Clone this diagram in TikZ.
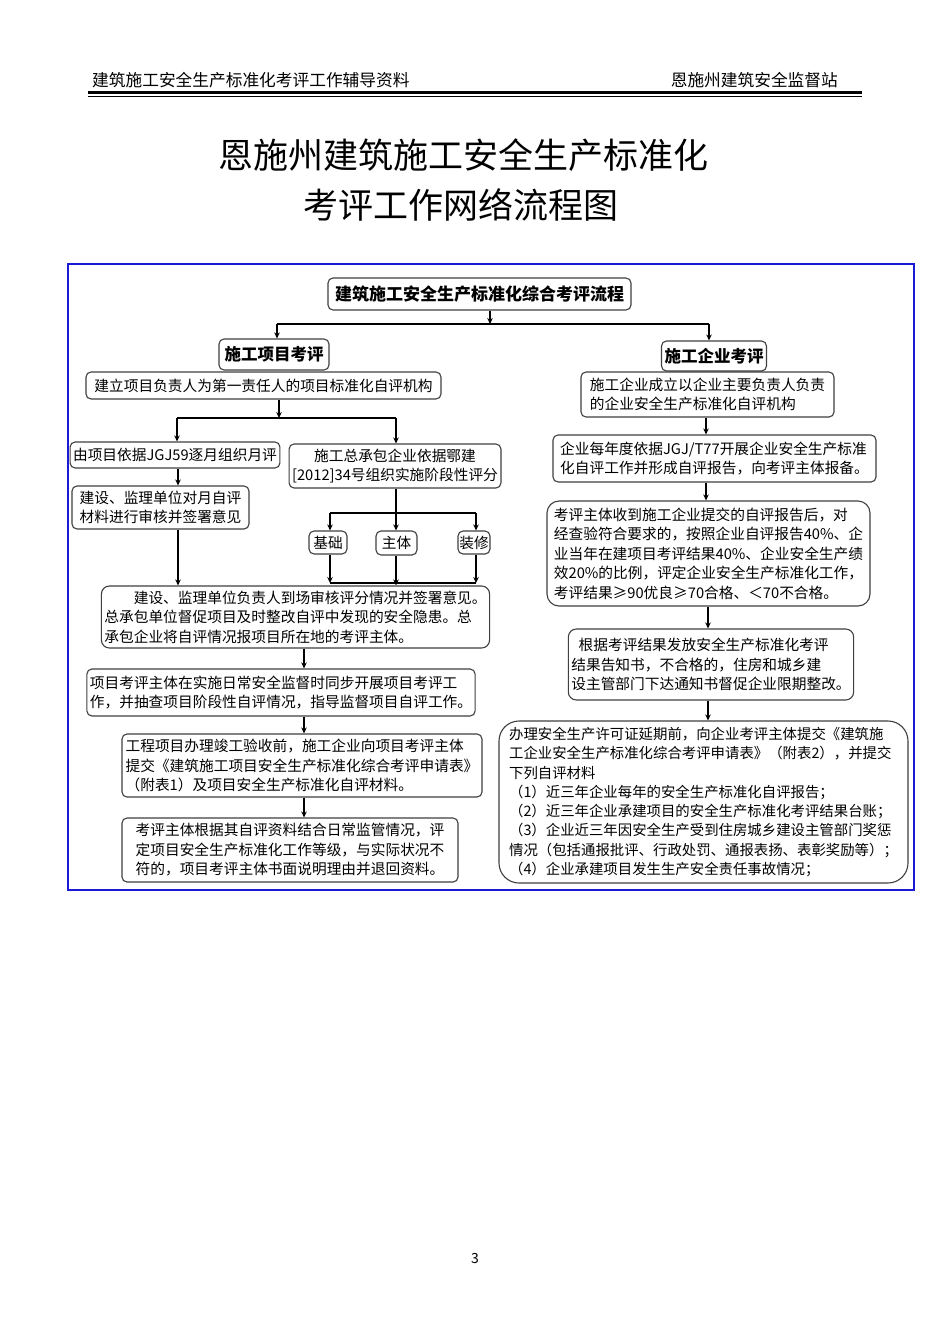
\documentclass[tikz,border=0pt]{standalone}
\usepackage{fontspec}
\setmainfont{Noto Sans CJK SC}
\usetikzlibrary{arrows.meta,calc}
\definecolor{framecol}{RGB}{25,25,215}
\begin{document}
\begin{tikzpicture}[x=1pt,y=-1pt,
  box/.style={draw=black!75, line width=1.1pt, rounded corners=5pt, inner sep=3pt,
    font=\fontsize{14.7}{19.5}\selectfont, align=left, fill=white},
  hbox/.style={box, font=\fontsize{17}{20}\selectfont\bfseries, align=center},
  conn/.style={line width=1.8pt},
  arr/.style={conn,-{Stealth[length=6pt,width=5.5pt]}},
  plain/.style={inner sep=0pt, anchor=center}]
\useasboundingbox (0,0) rectangle (950,1344);
\fill[white] (0,0) rectangle (950,1344);

% header
\node[plain, anchor=west, font=\fontsize{16.7}{18}\selectfont] (hl) at (92,80) {建筑施工安全生产标准化考评工作辅导资料};
\node[plain, anchor=east, font=\fontsize{16.7}{18}\selectfont] (hr) at (838,80) {恩施州建筑安全监督站};
\draw[line width=3pt] (88,92.5) -- (862,92.5);
\draw[line width=1pt] (88,96.3) -- (862,96.3);

% title
\node[plain, font=\fontsize{35}{40}\selectfont] (t1) at (463,155) {恩施州建筑施工安全生产标准化};
\node[plain, font=\fontsize{35}{40}\selectfont] (t2) at (461,205) {考评工作网络流程图};

% frame
\draw[framecol, line width=2pt] (68,264) rectangle (914,890);

% top
\node[hbox, minimum width=303pt, minimum height=32pt] (top) at (479.5,294) {建筑施工安全生产标准化综合考评流程};
\node[hbox, minimum width=110pt, minimum height=31pt, font=\fontsize{16.5}{20}\selectfont\bfseries] (proj) at (274,354.5) {施工项目考评};
\node[hbox, minimum width=98pt, minimum height=30pt, font=\fontsize{16.5}{20}\selectfont\bfseries] (ent) at (714,356) {施工企业考评};

\coordinate (b0) at (490,324);
\coordinate (bl) at (277,324);
\coordinate (br) at (709,324);
\draw[arr] (top.south -| b0) -- (b0);
\draw[line width=2.6pt] (bl) -- (br);
\draw[arr] (bl) -- (proj.north -| bl);
\draw[arr] (br) -- (ent.north -| br);

% left column
\node[box, align=center, minimum width=355pt, minimum height=27pt] (L1) at (263.5,385.5) {建立项目负责人为第一责任人的项目标准化自评机构};
\node[box, align=center, minimum width=206pt, minimum height=26pt] (L2a) at (175,455) {由项目依据JGJ59逐月组织月评};
\node[box, align=center, minimum width=208pt, minimum height=44pt] (L2b) at (395,466) {施工总承包企业依据鄂建\\{[}2012]34号组织实施阶段性评分};
\node[box, minimum width=177pt, minimum height=43pt] (L3a) at (160.5,507.5) {建设、监理单位对月自评\\材料进行审核并签署意见};
\node[box, align=center, minimum width=38pt, minimum height=23pt, inner sep=1pt] (jc) at (328,542.5) {基础};
\node[box, align=center, minimum width=41pt, minimum height=24pt, inner sep=1pt] (zt) at (396.5,543) {主体};
\node[box, align=center, minimum width=32pt, minimum height=23pt, inner sep=1pt] (zx) at (474,542.5) {装修};
\node[box, rounded corners=8pt, minimum width=387pt, minimum height=62pt] (L4) at (295.5,617) {\hspace*{2em}建设、监理单位负责人到场审核评分情况并签署意见。\\总承包单位督促项目及时整改自评中发现的安全隐患。总\\承包企业将自评情况报项目所在地的考评主体。};
\node[box, minimum width=388pt, minimum height=47pt] (L5) at (281,692.5) {项目考评主体在实施日常安全监督时同步开展项目考评工\\作，并抽查项目阶段性自评情况，指导监督项目自评工作。};
\node[box, minimum width=360pt, minimum height=63pt] (L6) at (302,765.5) {工程项目办理竣工验收前，施工企业向项目考评主体\\提交《建筑施工项目安全生产标准化综合考评申请表》\\（附表1）及项目安全生产标准化自评材料。};
\node[box, minimum width=336pt, minimum height=64pt] (L7) at (290,850) {考评主体根据其自评资料结合日常监管情况，评\\定项目安全生产标准化工作等级，与实际状况不\\符的，项目考评主体书面说明理由并退回资料。};

\coordinate (c1) at (279,418);
\coordinate (c1l) at (177,418);
\coordinate (c1r) at (396,418);
\draw[arr] (L1.south -| c1) -- (c1);
\draw[conn] (c1l) -- (c1r);
\draw[arr] (c1l) -- (L2a.north -| c1l);
\draw[arr] (c1r) -- (L2b.north -| c1r);
\coordinate (xa) at (178,0);
\draw[arr] (L2a.south -| xa) -- (L3a.north -| xa);
\draw[arr] (L3a.south -| xa) -- (L4.north -| xa);

\coordinate (c2) at (396,513);
\coordinate (c2l) at (330,513);
\coordinate (c2r) at (476,513);
\draw[arr] (L2b.south -| c2) -- (zt.north -| c2);
\draw[conn] (c2l) -- (c2r);
\draw[arr] (c2l) -- (jc.north -| c2l);
\draw[arr] (c2r) -- (zx.north -| c2r);
\coordinate (c3l) at (330,583);
\coordinate (c3r) at (476,583);
\draw[arr] (jc.south -| c3l) -- (c3l);
\draw[arr] (zx.south -| c3r) -- (c3r);
\draw[conn] (c3l) -- (c3r);
\draw[arr] (zt.south -| c2) -- (L4.north -| c2);

\coordinate (xb) at (304,0);
\draw[arr] (L4.south -| xb) -- (L5.north -| xb);
\draw[arr] (L5.south -| xb) -- (L6.north -| xb);
\draw[arr] (L6.south -| xb) -- (L7.north -| xb);

% right column
\node[box, minimum width=253pt, minimum height=45pt] (R1) at (707.5,394.5) {施工企业成立以企业主要负责人负责\\的企业安全生产标准化自评机构};
\node[box, minimum width=323pt, minimum height=47pt] (R2) at (714.5,458.5) {企业每年度依据JGJ/T77开展企业安全生产标准\\化自评工作并形成自评报告，向考评主体报备。};
\node[box, rounded corners=12pt, minimum width=323pt, minimum height=105pt] (R3) at (708.5,553.5) {考评主体收到施工企业提交的自评报告后，对\\经查验符合要求的，按照企业自评报告40\%、企\\业当年在建项目考评结果40\%、企业安全生产绩\\效20\%的比例，评定企业安全生产标准化工作，\\考评结果≥90优良≥70合格、＜70不合格。};
\node[box, rounded corners=8pt, minimum width=282pt, minimum height=71pt] (R4) at (711,664.5) {\hspace*{0.5em}根据考评结果发放安全生产标准化考评\\结果告知书，不合格的，住房和城乡建\\设主管部门下达通知书督促企业限期整改。};
\node[box, rounded corners=20pt, minimum width=409pt, minimum height=162pt, font=\fontsize{14.4}{19.3}\selectfont] (R5) at (703.5,802) {办理安全生产许可证延期前，向企业考评主体提交《建筑施\\工企业安全生产标准化综合考评申请表》（附表2），并提交\\下列自评材料\\（1）近三年企业每年的安全生产标准化自评报告；\\（2）近三年企业承建项目的安全生产标准化考评结果台账；\\（3）企业近三年因安全生产受到住房城乡建设主管部门奖惩\\情况（包括通报批评、行政处罚、通报表扬、表彰奖励等）；\\（4）企业承建项目发生生产安全责任事故情况；};

\coordinate (xr) at (706,0);
\coordinate (xs) at (708,0);
\draw[arr] (R1.south -| xr) -- (R2.north -| xr);
\draw[arr] (R2.south -| xr) -- (R3.north -| xr);
\draw[arr] (R3.south -| xs) -- (R4.north -| xs);
\draw[arr] (R4.south -| xs) -- (R5.north -| xs);

% page number
\node[plain, font=\fontsize{14}{16}\selectfont] (pg) at (475,1258) {3};
\end{tikzpicture}
\end{document}
